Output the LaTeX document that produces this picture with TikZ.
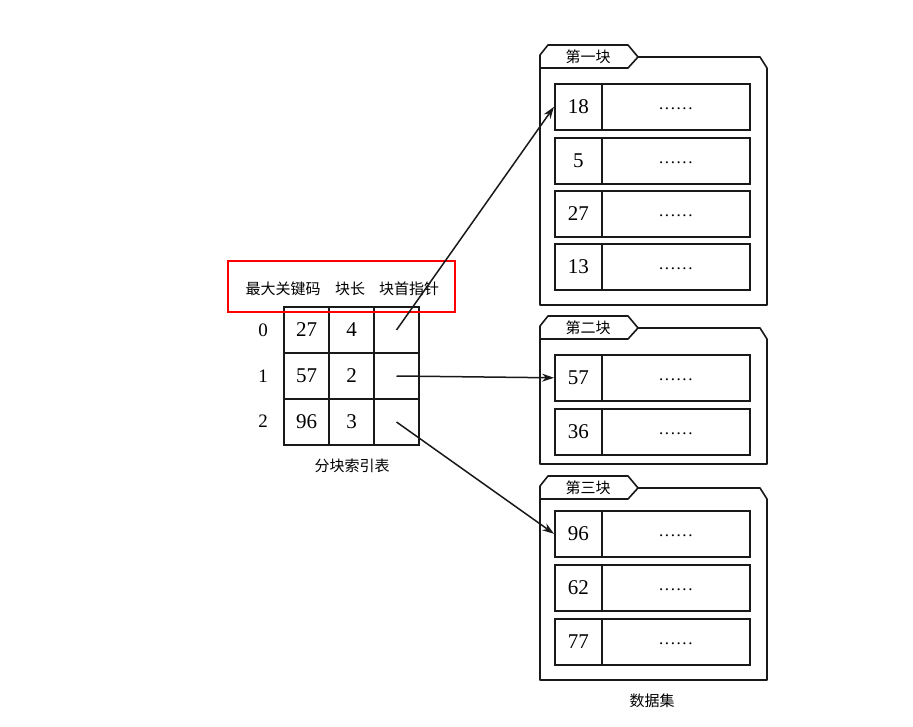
\documentclass[tikz,border=0pt]{standalone}
\usepackage{fontspec}
\setmainfont{Liberation Serif}
\newfontfamily\cjk{Noto Sans CJK SC}
\usetikzlibrary{arrows.meta}

% six spaced dots standing for the rest of a record
\newcommand\restdots{\raisebox{-5pt}{.\kern1.6pt.\kern1.6pt.\kern1.6pt.\kern1.6pt.\kern1.6pt.}}

\begin{document}
\begin{tikzpicture}[x=1pt,y=-1pt,
  frame/.style={draw=black!90, line width=1.6pt, line join=round},
  keycell/.style={draw=black!90, line width=1.6pt, anchor=north west, minimum width=47pt,
    minimum height=46pt, inner sep=0pt, font=\fontsize{21}{21}\selectfont},
  datacell/.style={draw=black!90, line width=1.6pt, anchor=north west, minimum width=148pt,
    minimum height=46pt, inner sep=0pt, font=\fontsize{17}{17}\selectfont},
  idxcell/.style={draw=black!90, line width=1.6pt, minimum width=45pt, minimum height=46pt,
    inner sep=0pt, font=\fontsize{21}{21}\selectfont},
  rowlabel/.style={font=\fontsize{19}{19}\selectfont, inner sep=0pt},
  cjklabel/.style={font=\cjk\fontsize{15}{15}\selectfont, inner sep=0pt},
  ptr/.style={draw=black!90, line width=1.5pt, -{Stealth[length=12pt,width=8pt]}}]

\useasboundingbox[fill=white] (0,0) rectangle (913,727);

% block frame with a pointed tab; #1 tab top, #2 frame bottom, #3 name, #4 tab text
\newcommand\blockframe[4]{%
  \draw[frame] (540,#1+10) -- (548,#1) -- (628,#1) -- (638,#1+12) -- (628,#1+23) -- (540,#1+23) -- cycle;
  \draw[frame] (638,#1+12) -- (760,#1+12) -- (767,#1+23) -- (767,#2) -- (540,#2) -- (540,#1+23);
  \node[cjklabel] (#3) at (588,#1+12) {#4};
}
% one record: key cell plus data cell; #1 top, #2 name, #3 key
\newcommand\record[3]{%
  \node[keycell] (#2) at (554,#1) {#3};
  \node[datacell] (#2d) at (601,#1) {\restdots};
}

% data blocks
\blockframe{45}{305}{tab1}{第一块}
\record{83}{r18}{18}
\record{137}{r5}{5}
\record{190}{r27}{27}
\record{243}{r13}{13}

\blockframe{316}{464}{tab2}{第二块}
\record{354}{r57}{57}
\record{408}{r36}{36}

\blockframe{476}{680}{tab3}{第三块}
\record{510}{r96}{96}
\record{564}{r62}{62}
\record{618}{r77}{77}

\node[cjklabel] (dataset) at (652,701) {数据集};

% index table
\node[idxcell] (k0) at (306.5,330) {27};
\node[idxcell] (n0) at (351.5,330) {4};
\node[idxcell] (p0) at (396.5,330) {};
\node[idxcell] (k1) at (306.5,376) {57};
\node[idxcell] (n1) at (351.5,376) {2};
\node[idxcell] (p1) at (396.5,376) {};
\node[idxcell] (k2) at (306.5,422) {96};
\node[idxcell] (n2) at (351.5,422) {3};
\node[idxcell] (p2) at (396.5,422) {};

\node[rowlabel] (i0) at (263,330) {0};
\node[rowlabel] (i1) at (263,376) {1};
\node[rowlabel] (i2) at (263,421) {2};

\node[cjklabel] (hkey) at (283,289) {最大关键码};
\node[cjklabel] (hlen) at (350,289) {块长};
\node[cjklabel] (hptr) at (409,289) {块首指针};
\node[cjklabel] (caption) at (352,466) {分块索引表};

% highlight around the column headings
\draw[red, line width=2pt] (228,261) rectangle (455,312);

% block pointers
\draw[ptr] (p0.center) -- (r18.west);
\draw[ptr] (p1.center) -- (r57.west);
\draw[ptr] (p2.center) -- (r96.west);

\end{tikzpicture}
\end{document}
